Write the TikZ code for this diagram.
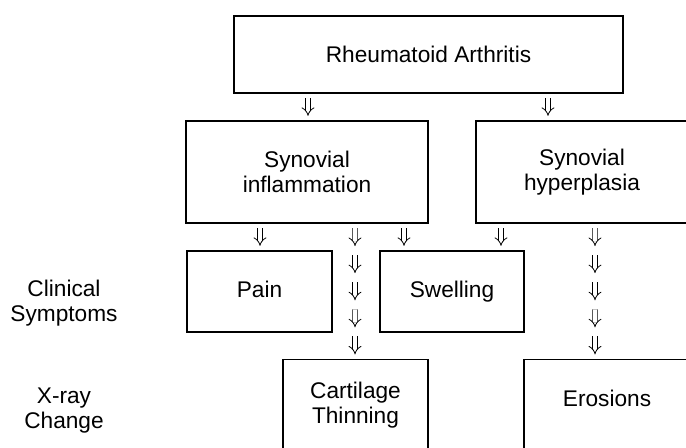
\documentclass[tikz,border=0pt]{standalone}
\usepackage{fontspec}
\setmainfont{Liberation Sans}
\usetikzlibrary{arrows.meta,calc}
\tikzset{
  box/.style={
    draw,
    line width=0.8pt,
    align=center,
    inner sep=0pt
  },
  sidelabel/.style={
    align=center,
    inner sep=0pt
  },
  dblarr/.style={
    double,
    double distance=2.8pt,
    line width=0.6pt,
    -{Implies},
    shorten <=3.4pt,
    shorten >=3.4pt
  }
}

\begin{document}
\begin{tikzpicture}[x=0.75pt,y=-0.75pt,
  every node/.style={font=\fontsize{17}{18.75}\selectfont}]
  \clip (0,0) rectangle (686,448);

  \node[box, minimum width=291.75pt, minimum height=57.75pt] (ra) at (428.5,54.5) {Rheumatoid Arthritis};

  \node[box, minimum width=181.5pt, minimum height=76.5pt] (inf) at (307,172) {Synovial\\inflammation};
  \node[box, minimum width=159pt, minimum height=76.5pt] (hyp) at (582,172) {Synovial\\hyperplasia};

  \node[box, minimum width=108.75pt, minimum height=60.75pt, text height=12.2pt, text depth=3.6pt] (pain) at (259.5,291.5) {Pain};
  \node[box, minimum width=108pt, minimum height=60.75pt, text height=12.2pt, text depth=3.6pt] (swell) at (452,291.5) {Swelling};

  \node[box, anchor=north, minimum width=108.75pt, inner ysep=17pt, text depth=70pt] (cart) at (355.5,359) {Cartilage\\Thinning};
  \node[box, anchor=north, minimum width=124.5pt, inner ysep=23pt, text depth=70pt] (eros) at (607,359) {Erosions};

  \node[sidelabel] (clin) at (64,303) {Clinical\\Symptoms};
  \node[sidelabel] (xray) at (64,411) {X-ray\\Change};

  % arrow columns
  \coordinate (c1) at (308,0);
  \coordinate (c2) at (548,0);
  \coordinate (c3) at (260,0);
  \coordinate (c4) at (355,0);
  \coordinate (c5) at (404,0);
  \coordinate (c6) at (501,0);
  \coordinate (c7) at (595,0);

  \draw[dblarr] (ra.south -| c1) -- (inf.north -| c1);
  \draw[dblarr] (ra.south -| c2) -- (hyp.north -| c2);
  \draw[dblarr] (inf.south -| c3) -- (pain.north -| c3);
  \draw[dblarr] (inf.south -| c5) -- (swell.north -| c5);
  \draw[dblarr] (hyp.south -| c6) -- (swell.north -| c6);

  \foreach \k in {0,...,4} {
    \draw[dblarr] ($(inf.south -| c4)!{\k/5}!(cart.north -| c4)$) -- ($(inf.south -| c4)!{(\k+1)/5}!(cart.north -| c4)$);
    \draw[dblarr] ($(hyp.south -| c7)!{\k/5}!(eros.north -| c7)$) -- ($(hyp.south -| c7)!{(\k+1)/5}!(eros.north -| c7)$);
  }
\end{tikzpicture}
\end{document}
